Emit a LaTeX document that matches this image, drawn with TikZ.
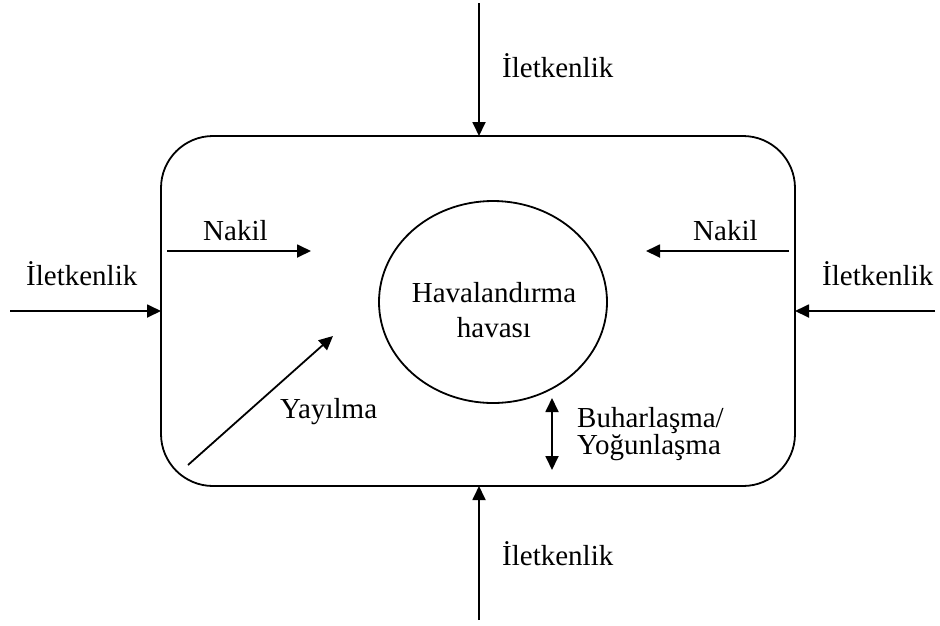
\documentclass[tikz,border=0pt]{standalone}
\usepackage{fontspec}
\setmainfont{Liberation Serif}
\usetikzlibrary{arrows.meta,shapes.geometric}
\begin{document}
\begin{tikzpicture}[x=1pt,y=-1pt,
  lbl/.style={anchor=base west,inner sep=0pt,font=\fontsize{29}{34}\selectfont},
  lblc/.style={anchor=base,inner sep=0pt,font=\fontsize{29}{34}\selectfont},
  arr/.style={line width=1.8pt,-{Triangle[length=14pt,width=13pt]}},
  darr/.style={line width=1.8pt,{Triangle[length=14pt,width=13pt]}-{Triangle[length=14pt,width=13pt]}},
  box/.style={draw,line width=1.8pt,rounded corners=52pt}]
\useasboundingbox (0,0) rectangle (940,625);
% main rounded box
\draw[box] (161,136) rectangle (795,486);
\coordinate (bt) at (479,136);
\coordinate (bb) at (479,486);
\coordinate (bl) at (161,311);
\coordinate (br) at (795,311);
% central ellipse
\node[draw,ellipse,line width=1.8pt,minimum width=228pt,minimum height=202pt,inner sep=0pt] (air) at (493,302) {};
\node[lblc] (air1) at (494,302) {Havalandırma};
\node[lblc] (air2) at (494,337) {havası};
% outside conduction arrows
\coordinate (tstart) at (479,3);
\coordinate (bstart) at (479,620);
\coordinate (lstart) at (10,311);
\coordinate (rstart) at (935,311);
\draw[arr] (tstart) -- (bt);
\draw[arr] (bstart) -- (bb);
\draw[arr] (lstart) -- (bl);
\draw[arr] (rstart) -- (br);
\node[lbl] (ilt) at (502,77) {İletkenlik};
\node[lbl] (ilb) at (502,565) {İletkenlik};
\node[lbl] (ill) at (26,285) {İletkenlik};
\node[lbl] (ilr) at (822,285) {İletkenlik};
% Nakil arrows
\coordinate (nl1) at (167,251);
\coordinate (nl2) at (311,251);
\coordinate (nr1) at (789,251);
\coordinate (nr2) at (646,251);
\draw[arr] (nl1) -- (nl2);
\draw[arr] (nr1) -- (nr2);
\node[lbl] (nakl) at (203,240) {Nakil};
\node[lbl] (nakr) at (693,240) {Nakil};
% Yayilma
\coordinate (y1) at (188,465);
\coordinate (y2) at (333,336);
\draw[arr] (y1) -- (y2);
\node[lbl] (yay) at (280,418) {Yayılma};
% Buharlasma
\coordinate (b1) at (552,398);
\coordinate (b2) at (552,470);
\draw[darr] (b1) -- (b2);
\node[lbl] (buh1) at (577,427) {Buharlaşma/};
\node[lbl] (buh2) at (577,454) {Yoğunlaşma};
\end{tikzpicture}
\end{document}
